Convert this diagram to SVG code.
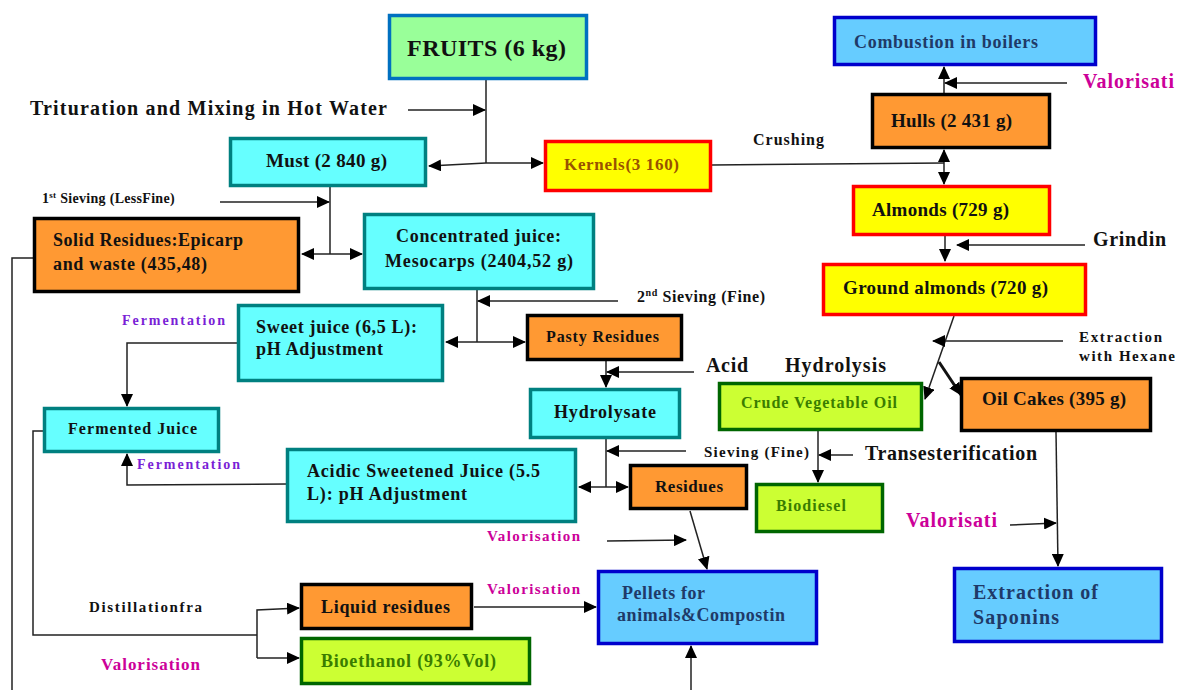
<svg xmlns="http://www.w3.org/2000/svg" width="1179" height="690" viewBox="0 0 1179 690">
<style>
text{font-family:"Liberation Serif","Times New Roman",serif;font-weight:bold;fill:#111}
.b{stroke-width:3.5}
.cy{fill:#66FFFF;stroke:#008080}
.or{fill:#FF9933;stroke:#000}
.ye{fill:#FFFF00;stroke:#FF0000}
.gr{fill:#CCFF33;stroke:#006600}
.bl{fill:#66CCFF;stroke:#0000CC}
.fr{fill:#99FF99;stroke:#0070C0}
.navy{fill:#1F3A68}
.grt{fill:#3A7D00}
.mag{fill:#CC0099}
.pur{fill:#7A1FD6}
.ln{fill:none;stroke:#222;stroke-width:1.5}
.tk{fill:none;stroke:#111;stroke-width:3}
</style>
<defs>
<marker id="ah" markerUnits="userSpaceOnUse" markerWidth="14" markerHeight="12" refX="12" refY="6" orient="auto">
<path d="M0,0 L13,6 L0,12 Z" fill="#000"/>
</marker>
</defs>

<g id="connectors">
<path class="ln" d="M486,80 V163"/>
<path class="ln" d="M408,110 H485" marker-end="url(#ah)"/>
<path class="ln" d="M486,163 L429,166" marker-end="url(#ah)"/>
<path class="ln" d="M486,163 H543" marker-end="url(#ah)"/>
<path class="ln" d="M330,187 V254"/>
<path class="ln" d="M220,202 H329" marker-end="url(#ah)"/>
<path class="ln" d="M330,254 H302" marker-end="url(#ah)"/>
<path class="ln" d="M330,254 H362" marker-end="url(#ah)"/>
<path class="ln" d="M477,290 V342"/>
<path class="ln" d="M618,301 H478" marker-end="url(#ah)"/>
<path class="ln" d="M477,342 H446" marker-end="url(#ah)"/>
<path class="ln" d="M477,342 H525" marker-end="url(#ah)"/>
<path class="ln" d="M606,361 V387" marker-end="url(#ah)"/>
<path class="ln" d="M694,372 H607" marker-end="url(#ah)"/>
<path class="ln" d="M606,439 V487"/>
<path class="ln" d="M686,451 H607" marker-end="url(#ah)"/>
<path class="ln" d="M606,487 H579" marker-end="url(#ah)"/>
<path class="ln" d="M606,487 H628" marker-end="url(#ah)"/>
<path class="ln" d="M690,511 L707,569" marker-end="url(#ah)"/>
<path class="ln" d="M607,541 L686,540" marker-end="url(#ah)"/>
<path class="ln" d="M474,607 H596" marker-end="url(#ah)"/>
<path class="ln" d="M691,690 V646" marker-end="url(#ah)"/>
<path class="ln" d="M237,343 H127 V406" marker-end="url(#ah)"/>
<path class="ln" d="M287,484 L127,485 V454" marker-end="url(#ah)"/>
<path class="ln" d="M43,431 H33 V635 H257"/>
<path class="ln" d="M257,658 V610 L299,608" marker-end="url(#ah)"/>
<path class="ln" d="M257,658 H299" marker-end="url(#ah)"/>
<path class="ln" d="M33,258 H12 V690"/>
<path class="ln" d="M712,165 L944,163"/>
<path class="ln" d="M944,163 V150" marker-end="url(#ah)"/>
<path class="ln" d="M944,163 V184" marker-end="url(#ah)"/>
<path class="ln" d="M944,93 V67" marker-end="url(#ah)"/>
<path class="ln" d="M1067,83 H945" marker-end="url(#ah)"/>
<path class="ln" d="M945,236 V261" marker-end="url(#ah)"/>
<path class="ln" d="M1085,245 H957" marker-end="url(#ah)"/>
<path class="ln" d="M954,316 L925,399" marker-end="url(#ah)"/>
<path class="ln" d="M1063,341 H933" marker-end="url(#ah)"/>
<path class="tk" d="M939,362 L961,395" marker-end="url(#ah)"/>
<path class="ln" d="M818,431 V482" marker-end="url(#ah)"/>
<path class="ln" d="M853,455 H819" marker-end="url(#ah)"/>
<path class="ln" d="M1056,432 L1058,566" marker-end="url(#ah)"/>
<path class="ln" d="M1010,525 L1056,523" marker-end="url(#ah)"/>
</g>

<g id="fruits"><rect class="fr b" x="389.5" y="15.5" width="197" height="63"/><text x="407" y="56" font-size="24" textLength="159" lengthAdjust="spacing">FRUITS (6 kg)</text></g>
<g id="combustion"><rect class="bl b" x="834.5" y="17.5" width="261" height="47"/><text class="navy" x="854" y="48" font-size="18" textLength="184" lengthAdjust="spacing">Combustion in boilers</text></g>
<g id="hulls"><rect class="or b" x="872.5" y="94.5" width="177" height="53"/><text x="891" y="127" font-size="19" textLength="121" lengthAdjust="spacing">Hulls (2 431 g)</text></g>
<g id="kernels"><rect class="ye b" x="545.5" y="141.5" width="165" height="49"/><text x="564" y="170" font-size="17" style="fill:#995200" textLength="115" lengthAdjust="spacing">Kernels(3 160)</text></g>
<g id="almonds"><rect class="ye b" x="853.5" y="186.5" width="196" height="48"/><text x="872" y="216" font-size="19" textLength="137" lengthAdjust="spacing">Almonds (729 g)</text></g>
<g id="ground"><rect class="ye b" x="823.5" y="264.5" width="262" height="50"/><text x="843" y="294" font-size="19" textLength="205" lengthAdjust="spacing">Ground almonds (720 g)</text></g>
<g id="must"><rect class="cy b" x="230.5" y="138.5" width="195" height="47"/><text x="266" y="167" font-size="19" textLength="121" lengthAdjust="spacing">Must (2 840 g)</text></g>
<g id="solid"><rect class="or b" x="34.5" y="218.5" width="264" height="73"/><text x="53" y="246" font-size="18" textLength="190" lengthAdjust="spacing">Solid Residues:Epicarp</text><text x="53" y="270" font-size="18" textLength="154" lengthAdjust="spacing">and waste (435,48)</text></g>
<g id="concentrated"><rect class="cy b" x="364.5" y="214.5" width="229" height="74"/><text x="396" y="242" font-size="18" textLength="165" lengthAdjust="spacing">Concentrated juice:</text><text x="385" y="267" font-size="18" textLength="188" lengthAdjust="spacing">Mesocarps (2404,52 g)</text></g>
<g id="sweet"><rect class="cy b" x="238.5" y="305.5" width="204" height="75"/><text x="256" y="333" font-size="18" textLength="161" lengthAdjust="spacing">Sweet juice (6,5 L):</text><text x="256" y="355" font-size="18" textLength="127" lengthAdjust="spacing">pH Adjustment</text></g>
<g id="pasty"><rect class="or b" x="527.5" y="315.5" width="154" height="44"/><text x="546" y="342" font-size="16" textLength="113" lengthAdjust="spacing">Pasty Residues</text></g>
<g id="hydrolysate"><rect class="cy b" x="530.5" y="389.5" width="149" height="48"/><text x="554" y="418" font-size="18" textLength="102" lengthAdjust="spacing">Hydrolysate</text></g>
<g id="crude"><rect class="gr b" x="719.5" y="383.5" width="202" height="46"/><text class="grt" x="741" y="408" font-size="16" textLength="156" lengthAdjust="spacing">Crude Vegetable Oil</text></g>
<g id="oilcakes"><rect class="or b" x="961.5" y="378.5" width="189" height="52"/><text x="982" y="405" font-size="19" textLength="144" lengthAdjust="spacing">Oil Cakes (395 g)</text></g>
<g id="fermented"><rect class="cy b" x="44.5" y="408.5" width="174" height="43"/><text x="68" y="434" font-size="16" textLength="129" lengthAdjust="spacing">Fermented Juice</text></g>
<g id="acidic"><rect class="cy b" x="287.5" y="449.5" width="288" height="72"/><text x="307" y="477" font-size="18" textLength="233" lengthAdjust="spacing">Acidic Sweetened Juice (5.5</text><text x="307" y="500" font-size="18" textLength="160" lengthAdjust="spacing">L): pH Adjustment</text></g>
<g id="residues"><rect class="or b" x="630.5" y="465.5" width="116" height="43"/><text x="655" y="492" font-size="17" textLength="68" lengthAdjust="spacing">Residues</text></g>
<g id="biodiesel"><rect class="gr b" x="756.5" y="484.5" width="126" height="47"/><text class="grt" x="776" y="511" font-size="16" textLength="70" lengthAdjust="spacing">Biodiesel</text></g>
<g id="saponins"><rect class="bl b" x="954.5" y="568.5" width="207" height="73"/><text class="navy" x="973" y="599" font-size="20" textLength="125" lengthAdjust="spacing">Extraction of</text><text class="navy" x="973" y="624" font-size="20" textLength="86" lengthAdjust="spacing">Saponins</text></g>
<g id="pellets"><rect class="bl b" x="598.5" y="571.5" width="218" height="72"/><text class="navy" x="622" y="599" font-size="18" textLength="83" lengthAdjust="spacing">Pellets for</text><text class="navy" x="617" y="621" font-size="18" textLength="168" lengthAdjust="spacing">animals&amp;Compostin</text></g>
<g id="liquid"><rect class="or b" x="301.5" y="584.5" width="170" height="44"/><text x="321" y="613" font-size="18" textLength="129" lengthAdjust="spacing">Liquid residues</text></g>
<g id="bioethanol"><rect class="gr b" x="301.5" y="638.5" width="228" height="45"/><text class="grt" x="321" y="667" font-size="18" textLength="175" lengthAdjust="spacing">Bioethanol (93%Vol)</text></g>

<g id="labels">
<text x="30" y="115" font-size="20" textLength="357" lengthAdjust="spacing">Trituration and Mixing in Hot Water</text>
<text x="42" y="203" font-size="14" letter-spacing="0.3">1<tspan font-size="9" dy="-5">st</tspan><tspan dy="5"> Sieving (LessFine)</tspan></text>
<text x="637" y="302" font-size="16" letter-spacing="0.6">2<tspan font-size="10" dy="-6">nd</tspan><tspan dy="6"> Sieving (Fine)</tspan></text>
<text x="753" y="145" font-size="16" textLength="71" lengthAdjust="spacing">Crushing</text>
<text class="mag" x="1083" y="88" font-size="20" textLength="91" lengthAdjust="spacing">Valorisati</text>
<text x="1093" y="246" font-size="20" textLength="73" lengthAdjust="spacing">Grindin</text>
<text x="1079" y="342" font-size="15" textLength="83" lengthAdjust="spacing">Extraction</text>
<text x="1079" y="361" font-size="15" textLength="96" lengthAdjust="spacing">with Hexane</text>
<text x="706" y="372" font-size="20" textLength="42" lengthAdjust="spacing">Acid</text>
<text x="785" y="372" font-size="20" textLength="101" lengthAdjust="spacing">Hydrolysis</text>
<text x="704" y="457" font-size="15" textLength="105" lengthAdjust="spacing">Sieving (Fine)</text>
<text x="865" y="460" font-size="20" textLength="172" lengthAdjust="spacing">Transesterification</text>
<text class="pur" x="122" y="325" font-size="14" textLength="103" lengthAdjust="spacing">Fermentation</text>
<text class="pur" x="137" y="469" font-size="14" textLength="103" lengthAdjust="spacing">Fermentation</text>
<text class="mag" x="487" y="541" font-size="15" textLength="93" lengthAdjust="spacing">Valorisation</text>
<text class="mag" x="487" y="594" font-size="15" textLength="93" lengthAdjust="spacing">Valorisation</text>
<text class="mag" x="906" y="527" font-size="20" textLength="91" lengthAdjust="spacing">Valorisati</text>
<text x="89" y="612" font-size="15" textLength="113" lengthAdjust="spacing">Distillationfra</text>
<text class="mag" x="101" y="670" font-size="17" textLength="99" lengthAdjust="spacing">Valorisation</text>
</g>
</svg>
